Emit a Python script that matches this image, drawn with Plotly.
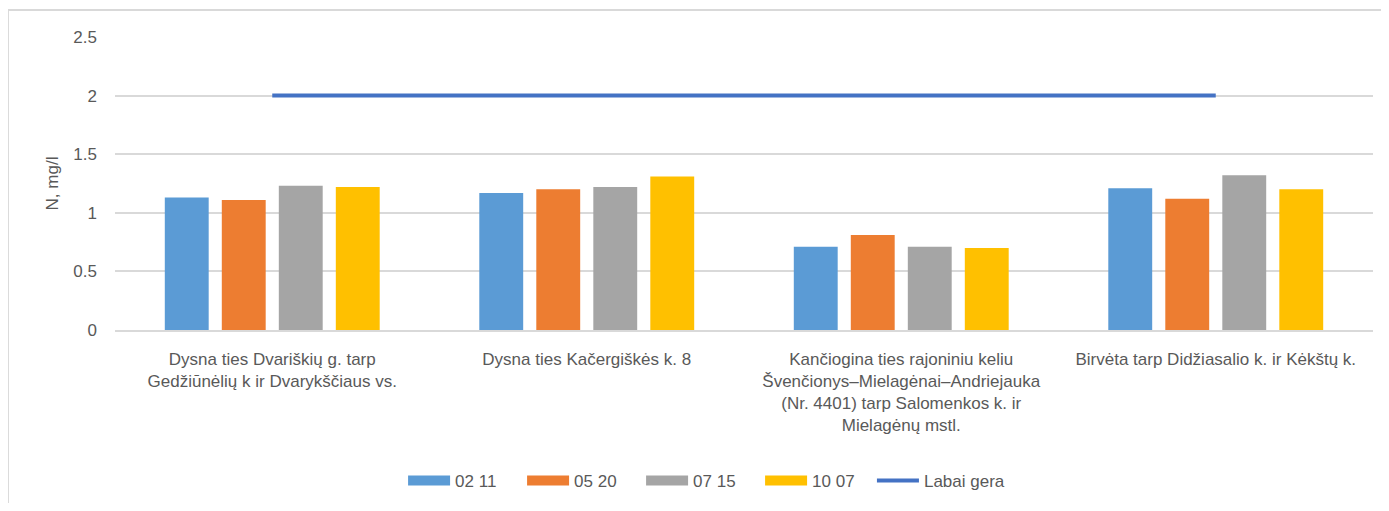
import plotly.graph_objects as go

categories = [
    "Dysna ties Dvariškių g. tarp<br>Gedžiūnėlių k ir Dvarykščiaus vs.",
    "Dysna ties Kačergiškės k. 8",
    "Kančiogina ties rajoniniu keliu<br>Švenčionys–Mielagėnai–Andriejauka<br>(Nr. 4401) tarp Salomenkos k. ir<br>Mielagėnų mstl.",
    "Birvėta tarp Didžiasalio k. ir Kėkštų k.",
]
series_names = ["02 11", "05 20", "07 15", "10 07"]
v_0211 = [1.13, 1.17, 0.71, 1.21]
v_0520 = [1.11, 1.20, 0.81, 1.12]
v_0715 = [1.23, 1.22, 0.71, 1.32]
v_1007 = [1.22, 1.31, 0.70, 1.20]
labai_gera = [2, 2, 2, 2]
colors = ["#5B9BD5", "#ED7D31", "#A5A5A5", "#FFC000"]

FONT = "Liberation Sans Narrow, Arial Narrow, Arial, sans-serif"
FS = 17

fig = go.Figure()
for name, vals, c in zip(series_names, [v_0211, v_0520, v_0715, v_1007], colors):
    fig.add_trace(go.Bar(x=categories, y=vals, name=name, marker_color=c,
                         marker_line_width=0, showlegend=False))
    # legend-only proxy so the legend swatch is a wide rectangle
    fig.add_trace(go.Scatter(x=[None], y=[None], name=name, mode="lines",
                             line=dict(color=c, width=11), legend="legend"))
fig.add_trace(go.Scatter(x=categories, y=labai_gera, name="Labai gera", mode="lines",
                         line=dict(color="#4472C4", width=4), legend="legend2"))

legend_common = dict(orientation="h", yref="container", y=0.0444, yanchor="middle",
                     font=dict(size=FS, color="#595959"), itemwidth=42,
                     bgcolor="rgba(0,0,0,0)")

fig.update_layout(
    width=1373, height=495,
    margin=dict(l=107, r=8, t=29, b=173),
    paper_bgcolor="white", plot_bgcolor="white",
    barmode="group", bargap=0.275, bargroupgap=0.23,
    font=dict(family=FONT, size=FS, color="#595959"),
    showlegend=True,
    legend=dict(x=0.229, xanchor="left", entrywidth=62, entrywidthmode="pixels",
                traceorder="normal", **legend_common),
    legend2=dict(x=0.6017, xanchor="left", **legend_common),
    yaxis=dict(range=[0, 2.5], dtick=0.5, showgrid=True, gridcolor="#D9D9D9", gridwidth=1.5,
               zeroline=False, showline=False, tickfont=dict(size=FS, color="#595959"),
               ticks="", ticklen=0, ticklabelstandoff=17,
               title=dict(text="N, mg/l", font=dict(size=FS, color="#595959"), standoff=10)),
    xaxis=dict(showline=True, linecolor="#D9D9D9", linewidth=1.5, ticks="",
               tickfont=dict(size=FS, color="#595959"), tickangle=0, ticklabelstandoff=13),
)

fig.add_shape(type="line", xref="paper", yref="paper", x0=-0.0851, x1=1.02, y0=1.0922, y1=1.0922,
              line=dict(color="#D9D9D9", width=2))
fig.add_shape(type="line", xref="paper", yref="paper", x0=-0.0851, x1=-0.0851, y0=1.0922, y1=-0.62,
              line=dict(color="#D9D9D9", width=2))

fig.write_html("out.html")
